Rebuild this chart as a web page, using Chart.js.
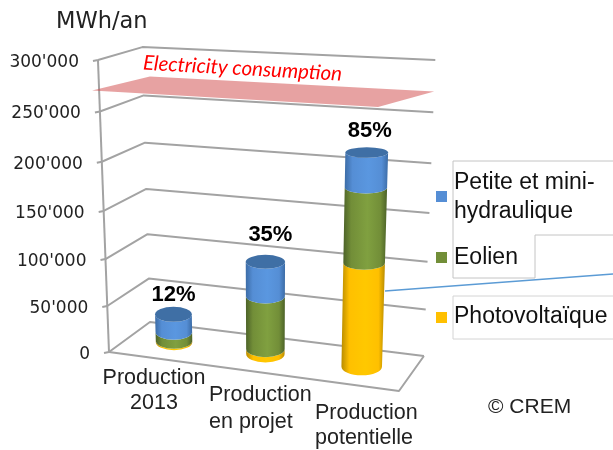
<!DOCTYPE html>
<html>
<head>
<meta charset="utf-8">
<script src="https://cdn.jsdelivr.net/npm/chart.js@4"></script>
<style>
  html, body { margin: 0; background: #fff; }
  canvas { display: block; }
</style>
</head>
<body>
<canvas id="graficoProduction" width="613" height="450"></canvas>
<script>
const categories = [["Production", "2013"], ["Production", "en projet"], ["Production", "potentielle"]];
const photovoltaique = [1500, 5500, 108000];
const eolien = [10000, 57000, 75000];
const hydraulique = [19500, 36000, 34000];
const percentLabels = ["12%", "35%", "85%"];
const tickLabels = ["0", "50'000", "100'000", "150'000", "200'000", "250'000", "300'000"];
const consumption = 270000;

const serieColors = [
  { flat: "#ffc000", edge: "#b98c00", light: "#ffc800" },
  { flat: "#728e38", edge: "#4c6228", light: "#80a040" },
  { flat: "#558ed5", edge: "#3c6ca6", light: "#5a97e0", cap: "#3f6fa5" }
];

// little shift of each percent from the top of its cylinder
const percentShift = [[0, -19], [5, -27], [3, -22]];

// perspective box: u left-right, v value, w front-back
const O = [109, 352];
const A = [258.4, 8.07];
const B = [-17.5, -296];
const C = [50.8, -8.9];
const pa = -0.0791, pb = -0.066, pc = 0.0656;

function project(u, v, w) {
  const d = 1 + pa * u + pb * v + pc * w;
  return [
    (O[0] + A[0] * u + B[0] * v + C[0] * w) / d,
    (O[1] + A[1] * u + B[1] * v + C[1] * w) / d
  ];
}

function line(ctx, pts, color, width) {
  ctx.beginPath();
  pts.forEach((p, i) => i ? ctx.lineTo(p[0], p[1]) : ctx.moveTo(p[0], p[1]));
  ctx.strokeStyle = color;
  ctx.lineWidth = width;
  ctx.stroke();
}

function text(ctx, str, x, y, font, color, align) {
  ctx.font = font;
  ctx.fillStyle = color || "#111";
  ctx.textAlign = align || "left";
  ctx.textBaseline = "middle";
  ctx.fillText(str, x, y);
}

function drawBox(chart, ctx) {
  const yScale = chart.scales.y;
  const toV = value => (yScale.bottom - yScale.getPixelForValue(value)) / yScale.height;
  const grey = "#a3a3a3";

  // floor
  line(ctx, [project(0, 0, 0), project(1, 0, 0), project(1, 0, 1)], grey, 2);
  // walls and ticks
  line(ctx, [project(0, 0, 0), project(0, 1, 0)], grey, 2);
  yScale.ticks.forEach(tick => {
    const v = toV(tick.value);
    const front = project(0, v, 0);
    line(ctx, [[front[0] - 5, front[1] + 1], front, project(0, v, 1), project(1, v, 1)], grey, 2);
    text(ctx, tick.label, front[0] - 19, front[1] + 2.5, "17px 'DejaVu Sans'", "#222", "right");
  });

  // consumption plane
  const v = toV(consumption);
  const plane = [project(-0.025, v, 0), project(0.91, v, 0), project(1, v, 1), project(0.025, v, 1)];
  ctx.beginPath();
  plane.forEach((p, i) => i ? ctx.lineTo(p[0], p[1]) : ctx.moveTo(p[0], p[1]));
  ctx.closePath();
  ctx.fillStyle = "rgba(207, 70, 70, 0.5)";
  ctx.fill();

  ctx.save();
  ctx.translate(143, 63);
  ctx.rotate(0.055);
  text(ctx, "Electricity consumption", 0, 0, "italic 20.5px Lato", "#ff0000");
  ctx.restore();
}

// level ellipse of the cylinder at height v, its size taken from the perspective
function ring(u, v, r, depth) {
  const c = project(u, v, 0.5);
  const left = project(u - r, v, 0.5);
  const right = project(u + r, v, 0.5);
  const front = project(u, v, 0.5 - depth);
  const back = project(u, v, 0.5 + depth);
  return { x: c[0], y: c[1], rx: (right[0] - left[0]) / 2, ry: (front[1] - back[1]) / 2 };
}

function drawCylinders(chart, ctx) {
  const area = chart.chartArea;
  const yScale = chart.scales.y;
  const depth = 0.26;
  chart.data.datasets.forEach((ds, d) => {
    chart.getDatasetMeta(d).data.forEach((el, i) => {
      const u = (el.x - area.left) / area.width;
      const r = el.width / area.width / 2;
      const low = ring(u, (yScale.bottom - el.base) / yScale.height, r, depth);
      const top = ring(u, (yScale.bottom - el.y) / yScale.height, r, depth);
      const x0 = Math.min(low.x - low.rx, top.x - top.rx);
      const x1 = Math.max(low.x + low.rx, top.x + top.rx);
      const col = serieColors[d];
      const grad = ctx.createLinearGradient(x0, 0, x1, 0);
      grad.addColorStop(0, col.edge);
      grad.addColorStop(0.18, col.flat);
      grad.addColorStop(0.55, col.light);
      grad.addColorStop(0.85, col.flat);
      grad.addColorStop(1, col.edge);
      ctx.beginPath();
      ctx.ellipse(low.x, low.y, low.rx, low.ry, 0, Math.PI, 0, true);
      ctx.ellipse(top.x, top.y, top.rx, top.ry, 0, 0, Math.PI, false);
      ctx.closePath();
      ctx.fillStyle = grad;
      ctx.fill();

      // top of the stack: cap and percent
      if (d === chart.data.datasets.length - 1) {
        ctx.beginPath();
        ctx.ellipse(top.x, top.y, top.rx, top.ry, 0, 0, Math.PI * 2);
        ctx.fillStyle = col.cap;
        ctx.fill();
        const shift = percentShift[i];
        text(ctx, percentLabels[i], top.x + shift[0], top.y + shift[1], "bold 22px 'Liberation Sans'", "#000", "center");
      }
    });
  });
}

function drawLabels(ctx) {
  const font = "21.5px 'Liberation Sans'";
  text(ctx, categories[0][0], 154, 378, font, "#222", "center");
  text(ctx, categories[0][1], 154, 403, font, "#222", "center");
  text(ctx, categories[1][0], 209, 395, font, "#222");
  text(ctx, categories[1][1], 209, 422, font, "#222");
  text(ctx, categories[2][0], 315, 413, font, "#222");
  text(ctx, categories[2][1], 315, 438, font, "#222");
  text(ctx, "MWh/an", 56, 22, "22.5px 'DejaVu Sans'", "#222");
  text(ctx, "© CREM", 488, 407, "21px 'Liberation Sans'", "#222");
}

function drawLegend(chart, ctx) {
  const frame = "#c4c4c4";
  line(ctx, [[613, 161], [453, 161], [453, 278], [535, 278], [535, 235], [613, 235]], frame, 1);
  line(ctx, [[613, 296], [453, 296], [453, 339], [613, 339]], "#d4d4d4", 1);
  line(ctx, [[385, 291], [613, 274]], "#5b9bd5", 1.5);

  const legendFont = "23px 'Liberation Sans'";
  const rows = [
    { d: 2, y: 191, lines: ["Petite et mini-", "hydraulique"], ty: [183, 212] },
    { d: 1, y: 252, lines: [chart.data.datasets[1].label], ty: [257.5] },
    { d: 0, y: 312, lines: [chart.data.datasets[0].label], ty: [317] }
  ];
  rows.forEach(row => {
    ctx.fillStyle = serieColors[row.d].flat;
    ctx.fillRect(436, row.y, 11, 11);
    row.lines.forEach((l, i) => text(ctx, l, 454, row.ty[i], legendFont, "#111"));
  });
}

const cylinders3d = {
  id: "cylinders3d",
  beforeDatasetsDraw(chart) {
    const ctx = chart.ctx;
    ctx.save();
    ctx.lineJoin = "round";
    drawBox(chart, ctx);
    drawCylinders(chart, ctx);
    drawLabels(ctx);
    drawLegend(chart, ctx);
    ctx.restore();
    return false; // the plugin already painted the bars
  }
};

new Chart(document.getElementById("graficoProduction").getContext("2d"), {
  type: "bar",
  data: {
    labels: categories,
    datasets: [
      { label: "Photovoltaïque", data: photovoltaique, backgroundColor: serieColors[0].flat },
      { label: "Eolien", data: eolien, backgroundColor: serieColors[1].flat },
      { label: "Petite et mini-hydraulique", data: hydraulique, backgroundColor: serieColors[2].flat }
    ]
  },
  plugins: [cylinders3d],
  options: {
    responsive: false,
    animation: false,
    barPercentage: 0.41,
    categoryPercentage: 1,
    plugins: { legend: { display: false }, tooltip: { enabled: false } },
    scales: {
      x: { stacked: true, display: false },
      y: {
        stacked: true,
        display: false,
        min: 0,
        max: 300000,
        ticks: { stepSize: 50000, callback: (value, i) => tickLabels[i] }
      }
    }
  }
});
</script>
</body>
</html>
